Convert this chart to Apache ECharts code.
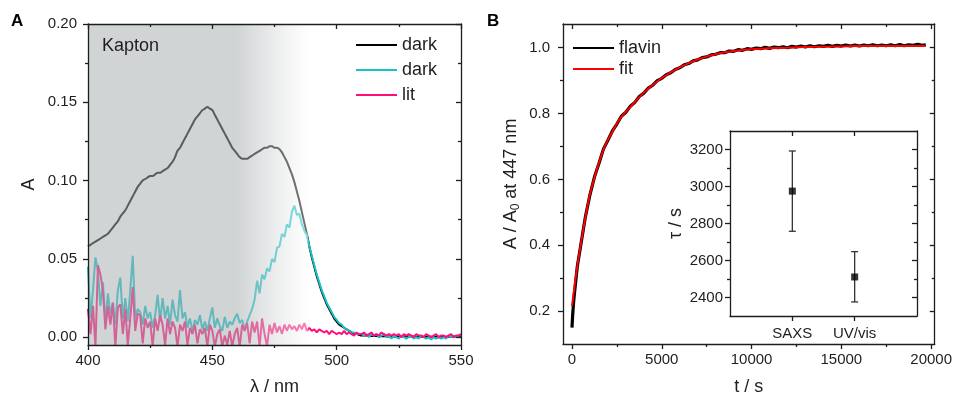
<!DOCTYPE html>
<html><head><meta charset="utf-8">
<script src="https://cdn.jsdelivr.net/npm/echarts@6/dist/echarts.min.js"></script>
<style>html,body{margin:0;padding:0;background:#fff}#c{width:955px;height:401px}</style>
</head><body><div id="c"></div>
<script>
// ---------- Panel A: spectra ----------
const wavelength = [
400,401,402,403,404,405,406,407,408,409,
410,411,412,413,414,415,416,417,418,419,
420,421,422,423,424,425,426,427,428,429,
430,431,432,433,434,435,436,437,438,439,
440,441,442,443,444,445,446,447,448,449,
450,451,452,453,454,455,456,457,458,459,
460,461,462,463,464,465,466,467,468,469,
470,471,472,473,474,475,476,477,478,479,
480,481,482,483,484,485,486,487,488,489,
490,491,492,493,494,495,496,497,498,499,
500,501,502,503,504,505,506,507,508,509,
510,511,512,513,514,515,516,517,518,519,
520,521,522,523,524,525,526,527,528,529,
530,531,532,533,534,535,536,537,538,539,
540,541,542,543,544,545,546,547,548,549,550];
const darkKapton = [
0.058,0.059,0.060,0.061,0.062,0.063,0.064,0.065,0.066,0.068,
0.070,0.072,0.074,0.077,0.079,0.081,0.084,0.087,0.090,0.093,
0.096,0.098,0.100,0.101,0.102,0.103,0.103,0.104,0.105,0.105,
0.106,0.107,0.108,0.110,0.112,0.115,0.119,0.121,0.124,0.127,
0.130,0.133,0.136,0.139,0.141,0.143,0.145,0.146,0.147,0.146,
0.145,0.142,0.139,0.136,0.133,0.130,0.127,0.124,0.121,0.119,
0.117,0.115,0.114,0.114,0.114,0.115,0.116,0.117,0.118,0.119,
0.120,0.121,0.121,0.122,0.122,0.121,0.121,0.120,0.118,0.115,
0.112,0.108,0.104,0.099,0.093,0.087,0.080,0.073,0.066,0.058,
0.051,0.045,0.039,0.034,0.029,0.025,0.021,0.018,0.015,0.012,
0.010,0.008,0.007,0.006,0.005,0.004,0.003,0.002,0.002,0.0015,
0.001,0.001,0.001,0.0008,0.0008,0.0007,0.0007,0.0006,0.0006,0.0006,
0.0005,0.0005,0.0005,0.0005,0.0005,0.0004,0.0004,0.0004,0.0004,0.0004,
0.0004,0.0004,0.0003,0.0003,0.0003,0.0003,0.0003,0.0003,0.0003,0.0003,
0.0003,0.0003,0.0002,0.0002,0.0002,0.0002,0.0002,0.0002,0.0002,0.0002,0.0002];
const darkSample = [
0.045,0.012,0.030,0.051,0.042,0.020,0.035,0.010,0.028,0.015,
0.022,0.008,0.030,0.038,0.012,0.025,0.010,0.030,0.052,0.012,
0.018,0.016,0.008,0.020,0.012,0.016,0.006,0.014,0.027,0.010,
0.025,0.012,0.020,0.008,0.024,0.014,0.010,0.030,0.012,0.016,
0.006,0.012,0.004,0.011,0.008,0.014,0.005,0.010,0.004,0.012,
0.019,0.006,0.012,0.007,0.004,0.013,0.006,0.010,0.008,0.012,
0.015,0.009,0.011,0.005,0.010,0.014,0.018,0.024,0.036,0.028,
0.040,0.037,0.044,0.042,0.050,0.048,0.057,0.058,0.066,0.064,
0.072,0.070,0.080,0.084,0.078,0.079,0.072,0.068,0.065,0.058,
0.052,0.046,0.040,0.035,0.030,0.026,0.022,0.019,0.016,0.013,
0.011,0.009,0.008,0.006,0.005,0.004,0.003,0.003,0.002,0.002,
0.002,0.001,0.002,0.000,0.002,0.001,0.002,0.000,0.001,0.002,
0.000,0.001,-0.001,0.001,0.000,-0.001,0.001,0.000,-0.001,0.000,
0.001,-0.001,0.000,-0.001,0.001,0.000,-0.001,0.000,-0.0015,0.000,
-0.001,0.000,-0.001,0.000,-0.001,0.001,0.000,0.001,0.000,0.001,0.001];
const litSample = [
0.018,0.002,0.020,-0.006,0.046,0.040,0.030,0.005,0.020,0.008,
0.022,-0.006,0.019,0.021,0.002,0.018,-0.005,0.012,0.032,0.004,
0.015,0.014,-0.004,0.012,0.006,0.010,-0.006,0.012,0.004,0.014,
0.008,-0.005,0.012,0.002,0.010,0.006,-0.006,0.008,0.004,0.010,
-0.005,0.006,0.002,0.008,-0.004,0.005,0.002,0.006,-0.006,0.008,
0.004,-0.006,0.002,0.005,-0.006,0.001,-0.005,0.004,-0.006,0.002,
0.006,-0.006,0.008,0.004,0.009,-0.004,0.010,0.003,0.010,-0.006,
0.012,0.002,-0.006,0.008,0.002,0.009,0.003,0.007,0.002,0.008,
0.004,0.008,0.005,0.007,0.004,0.008,0.005,0.009,0.004,0.006,
0.004,0.005,0.003,0.005,0.004,0.003,0.004,0.002,0.004,0.003,
0.002,0.003,0.002,0.004,0.002,0.003,0.002,0.001,0.003,0.002,
0.002,0.003,0.001,0.002,0.003,0.001,0.002,0.001,0.003,0.002,
0.001,0.002,0.001,0.002,0.001,0.002,0.000,0.002,0.001,0.002,
0.001,0.000,0.002,0.001,0.001,0.000,0.002,0.001,0.000,0.001,
0.002,0.000,0.001,0.001,0.000,0.001,0.002,0.000,0.001,0.001,0.002];
const kaptonBand = [400, 460, 488.5];   // shaded Kapton region: grey to 460 nm, lightening to 488.5 nm
const kaptonTop = 0.2;
const aXTicks = [400, 450, 500, 550];
const aXMinor = [425, 475, 525];
const aYTicks = [0, 0.05, 0.10, 0.15, 0.20];
const aYMinor = [0.025, 0.075, 0.125, 0.175];

// ---------- Panel B: kinetics ----------
const flavinT = [0,40,80,120,160,200,250,300,500,750,1000,1250,1500,1750,2000,2250,2500,2750,3000,3250,3500,3750,4000,4250,4500,4750,5000,5250,5500,5750,6000,6250,6500,6750,7000,7250,7500,7750,8000,8250,8500,8750,9000,9250,9500,9750,10000,10250,10500,10750,11000,11250,11500,11750,12000,12250,12500,12750,13000,13250,13500,13750,14000,14250,14500,14750,15000,15250,15500,15750,16000,16250,16500,16750,17000,17250,17500,17750,18000,18250,18500,18750,19000,19250,19500,19700];
const flavinA = [0.150,0.190,0.220,0.245,0.265,0.285,0.312,0.337,0.404,0.487,0.553,0.607,0.648,0.692,0.719,0.747,0.768,0.792,0.804,0.822,0.834,0.852,0.862,0.877,0.886,0.900,0.907,0.918,0.924,0.934,0.939,0.948,0.952,0.960,0.963,0.970,0.972,0.978,0.980,0.985,0.985,0.990,0.989,0.994,0.992,0.997,0.995,0.999,0.997,1.001,0.998,1.002,1.000,1.003,1.000,1.004,1.002,1.005,1.002,1.006,1.003,1.006,1.004,1.007,1.004,1.007,1.005,1.008,1.005,1.008,1.005,1.008,1.006,1.009,1.006,1.008,1.006,1.009,1.006,1.010,1.006,1.009,1.007,1.010,1.007,1.009];
const fitT = [0,250,500,750,1000,1250,1500,1750,2000,2250,2500,2750,3000,3250,3500,3750,4000,4250,4500,4750,5000,5500,6000,6500,7000,7500,8000,8500,9000,9500,10000,11000,12000,13000,14000,15000,16000,17000,18000,19000,19700];
const fitA = [0.215,0.320,0.405,0.485,0.555,0.605,0.650,0.690,0.720,0.745,0.770,0.790,0.805,0.820,0.835,0.850,0.863,0.875,0.887,0.898,0.908,0.925,0.940,0.953,0.964,0.973,0.980,0.986,0.990,0.993,0.995,0.998,1.000,1.002,1.003,1.004,1.005,1.005,1.005,1.005,1.005];
const bXTicks = [0, 5000, 10000, 15000, 20000];
const bXMinor = [2500, 7500, 12500, 17500];
const bYTicks = [0.2, 0.4, 0.6, 0.8, 1.0];
const bYMinor = [0.3, 0.5, 0.7, 0.9];

// ---------- Inset: time constants ----------
const methods = ['SAXS', 'UV/vis'];
const tau = [2975, 2511];
const tauLow = [2758, 2376];
const tauHigh = [3192, 2648];
const iYTicks = [2400, 2600, 2800, 3000, 3200];
const iYMinor = [2500, 2700, 2900, 3100];

const FONT = '"Liberation Sans", Arial, Helvetica, sans-serif';
const INK = '#1e1e1e';

function ax(o) {
  return {
    type: 'value', gridIndex: o.grid, position: o.pos, min: o.min, max: o.max, z: 20,
    axisLine: { show: !!o.line, onZero: false, lineStyle: { color: INK, width: 1.3 } },
    axisTick: { show: true, inside: !!o.inside, length: o.len, customValues: o.vals, lineStyle: { color: INK, width: 1.3 } },
    axisLabel: { show: !!o.labels, customValues: o.vals, formatter: o.fmt || (v => String(v)), margin: o.margin || 8, color: INK, fontSize: 15, fontFamily: FONT },
    minorTick: { show: false }, splitLine: { show: false },
    name: o.name || '', nameLocation: 'middle', nameGap: o.nameGap || 0,
    nameTextStyle: Object.assign({ fontSize: 18, color: INK, fontFamily: FONT }, o.nameStyle || {})
  };
}
const xAxes = [], yAxes = [];
function sides(grid, xr, yr, xT, xM, yT, yM, xl, yl) {
  const xi = xAxes.length, yi = yAxes.length;
  xAxes.push(ax(Object.assign({ grid, pos: 'bottom', min: xr[0], max: xr[1], vals: xT, len: 5, line: true, labels: true }, xl)));
  if (xM) xAxes.push(ax({ grid, pos: 'bottom', min: xr[0], max: xr[1], vals: xM, len: 3 }));
  xAxes.push(ax({ grid, pos: 'top', min: xr[0], max: xr[1], vals: xT, len: 5, inside: true, line: true }));
  if (xM) xAxes.push(ax({ grid, pos: 'top', min: xr[0], max: xr[1], vals: xM, len: 3, inside: true }));
  yAxes.push(ax(Object.assign({ grid, pos: 'left', min: yr[0], max: yr[1], vals: yT, len: 5, line: true, labels: true }, yl)));
  if (yM) yAxes.push(ax({ grid, pos: 'left', min: yr[0], max: yr[1], vals: yM, len: 3 }));
  yAxes.push(ax({ grid, pos: 'right', min: yr[0], max: yr[1], vals: yT, len: 5, inside: true, line: true }));
  if (yM) yAxes.push(ax({ grid, pos: 'right', min: yr[0], max: yr[1], vals: yM, len: 3, inside: true }));
  return [xi, yi];
}
const [axA, ayA] = sides(0, [400, 550], [-0.005, 0.2], aXTicks, aXMinor, aYTicks, aYMinor,
  { margin: 8, name: 'λ / nm', nameGap: 33 },
  { margin: 11, fmt: v => v.toFixed(2), name: 'A', nameGap: 50 });
const [axB, ayB] = sides(1, [-500, 20200], [0.1, 1.072], bXTicks, bXMinor, bYTicks, bYMinor,
  { margin: 8, name: 't / s', nameGap: 34 },
  { margin: 13, fmt: v => v.toFixed(1), name: '{a|A / A}{s|0}{a| at 447 nm}', nameGap: 41,
    nameStyle: { rich: { a: { fontSize: 18, lineHeight: 22, verticalAlign: 'middle', color: INK, fontFamily: FONT },
                         s: { fontSize: 12, lineHeight: 22, verticalAlign: 'bottom', color: INK, fontFamily: FONT } } } });
const [axI, ayI] = sides(2, [0, 3], [2300, 3300], [1, 2], null, iYTicks, iYMinor,
  { margin: 10, fmt: v => methods[Math.round(v) - 1] },
  { margin: 7, name: 'τ / s', nameGap: 45 });

const pairs = (xs, ys) => xs.map((x, i) => [x, ys[i]]);
const fadeStart = (kaptonBand[1] - kaptonBand[0]) / (kaptonBand[2] - kaptonBand[0]);

const lineS = (name, xi, yi, data, color, width, z, extra) => Object.assign({
  type: 'line', name, xAxisIndex: xi, yAxisIndex: yi, data, symbol: 'none', showSymbol: false,
  lineStyle: { color, width }, itemStyle: { color }, z, animation: false, clip: true
}, extra || {});

const option = {
  animation: false,
  backgroundColor: '#fff',
  grid: [
    { left: 88, right: 494, top: 24, bottom: 52 },
    { left: 563, right: 19, top: 24, bottom: 53 },
    { left: 730, right: 38, top: 131, bottom: 85, show: true, backgroundColor: '#fff', borderWidth: 0, z: 3 }
  ],
  xAxis: xAxes,
  yAxis: yAxes,
  legend: [
    { data: ['dark', 'dark2', 'lit'], left: 356, top: 35, padding: 0, orient: 'vertical', icon: 'rect', itemWidth: 41, itemHeight: 2, itemGap: 5,
      selectedMode: false, formatter: n => n === 'dark2' ? 'dark' : n,
      textStyle: { fontSize: 18, lineHeight: 20, color: INK, fontFamily: FONT } },
    { data: ['flavin', 'fit'], left: 573, top: 38, padding: 0, orient: 'vertical', icon: 'rect', itemWidth: 41, itemHeight: 2, itemGap: 1,
      selectedMode: false, textStyle: { fontSize: 18, lineHeight: 20, color: INK, fontFamily: FONT } }
  ],
  graphic: [
    { type: 'text', left: 11, top: 13, style: { text: 'A', fill: '#000', font: 'bold 17px ' + FONT } },
    { type: 'text', left: 487, top: 13, style: { text: 'B', fill: '#000', font: 'bold 17px ' + FONT } },
    { type: 'text', left: 102, top: 37, z: 30, style: { text: 'Kapton', fill: INK, font: '18px ' + FONT } }
  ],
  series: [
    lineS('dark', axA, ayA, pairs(wavelength, darkKapton), '#000000', 2, 2, { smooth: 0.3 }),
    lineS('dark2', axA, ayA, pairs(wavelength, darkSample), '#17c3c8', 2, 3),
    lineS('lit', axA, ayA, pairs(wavelength, litSample), '#ff0f7b', 2, 4),
    lineS('Kapton', axA, ayA, [[kaptonBand[0], kaptonTop], [kaptonBand[2], kaptonTop]], 'rgba(0,0,0,0)', 0, 10, {
      silent: true,
      areaStyle: { origin: 'start', opacity: 1, color: { type: 'linear', x: 0, y: 0, x2: 1, y2: 0, colorStops: [
        { offset: 0, color: 'rgba(168,174,176,0.53)' }, { offset: fadeStart, color: 'rgba(168,174,176,0.53)' },
        { offset: 1, color: 'rgba(255,255,255,0.45)' }] } }
    }),
    lineS('flavin', axB, ayB, pairs(flavinT, flavinA), '#000000', 3.2, 3),
    lineS('fit', axB, ayB, pairs(fitT, fitA), '#ff0000', 2, 4, { smooth: 0.3 }),
    { type: 'custom', xAxisIndex: axI, yAxisIndex: ayI, z: 5, silent: true,
      data: methods.map((m, i) => [i + 1, tauLow[i], tauHigh[i]]),
      encode: { x: 0, y: [1, 2] },
      renderItem: (params, api) => {
        const x = api.value(0);
        const lo = api.coord([x, api.value(1)]);
        const hi = api.coord([x, api.value(2)]);
        const w = 3.5, st = { stroke: '#333', lineWidth: 1.3 };
        return { type: 'group', children: [
          { type: 'line', shape: { x1: lo[0], y1: lo[1], x2: hi[0], y2: hi[1] }, style: st },
          { type: 'line', shape: { x1: lo[0] - w, y1: lo[1], x2: lo[0] + w, y2: lo[1] }, style: st },
          { type: 'line', shape: { x1: hi[0] - w, y1: hi[1], x2: hi[0] + w, y2: hi[1] }, style: st }
        ] };
      } },
    { type: 'scatter', xAxisIndex: axI, yAxisIndex: ayI, z: 6, symbol: 'rect', symbolSize: 7,
      itemStyle: { color: '#000' }, data: methods.map((m, i) => [i + 1, tau[i]]) }
  ]
};
echarts.init(document.getElementById('c'), null, { renderer: 'canvas' }).setOption(option);
</script>
</body></html>
